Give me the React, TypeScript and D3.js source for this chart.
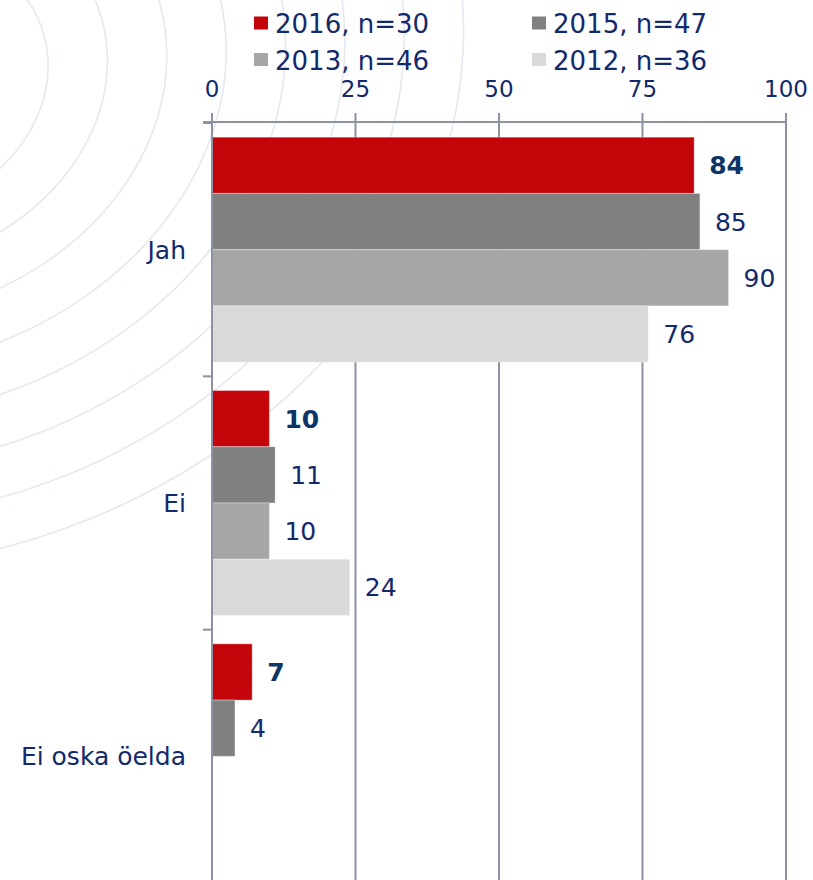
import React from "react";
import * as d3 from "d3";

const categories = ["Jah", "Ei", "Ei oska öelda"];
const seriesNames = ["2016, n=30", "2015, n=47", "2013, n=46", "2012, n=36"];
const seriesColors = ["#c30408", "#808080", "#a6a6a6", "#d9d9d9"];
const s2016 = [84, 10, 7];
const s2015 = [85, 11, 4];
const s2013 = [90, 10, null];
const s2012 = [76, 24, null];
const seriesValues = [s2016, s2015, s2013, s2012];
const xTicks = [0, 25, 50, 75, 100];

const W = 813;
const H = 880;
const FONT = "'DejaVu Sans', Verdana, sans-serif";
const TEXT = "#12296b";
const BOLD = "#0b3566";
const AXIS = "#8c91a3";

export default function App() {
  const x = d3.scaleLinear().domain([0, 100]).range([212, 786]);
  const y = d3.scaleBand<string>().domain(categories).range([123, 883]).paddingInner(0).paddingOuter(0);
  const inner = d3
    .scaleBand<string>()
    .domain(seriesNames)
    .range([0, y.bandwidth()])
    .paddingInner(0)
    .paddingOuter(0.252);

  // faint decorative watermark rings
  const rings = [170, 230, 290, 350, 410, 470, 530, 590];
  const gx = -120, gy = 80;

  return (
    <svg
      width={W}
      height={H}
      style={{ position: "absolute", left: 0, top: 0, background: "#fff" }}
      fontFamily={FONT}
    >
      <g fill="none" stroke="#e4e9f0" strokeWidth={1.6} transform={`rotate(-15 ${gx} ${gy})`}>
        {rings.map((r) => (
          <ellipse key={"r" + r} cx={gx} cy={gy} rx={r} ry={r * 0.82} />
        ))}
      </g>

      {/* gridlines */}
      {xTicks.map((t) => (
        <line key={"g" + t} x1={x(t)} x2={x(t)} y1={113} y2={H} stroke={AXIS} strokeWidth={2} />
      ))}
      {/* top axis line */}
      <line x1={203} x2={x(100)} y1={122} y2={122} stroke={AXIS} strokeWidth={2} />
      {/* category ticks on left */}
      {categories.map((c) => (
        <line key={"ct" + c} x1={203} x2={x(0)} y1={(y(c) as number)} y2={(y(c) as number)} stroke={AXIS} strokeWidth={2} />
      ))}

      {/* tick labels */}
      {xTicks.map((t) => (
        <text key={"tl" + t} x={x(t)} y={97} textAnchor="middle" fontSize={23} fill={TEXT}>
          {t}
        </text>
      ))}

      {/* bars */}
      {categories.map((c, ci) => (
        <g key={"c" + c}>
          {seriesNames.map((s, si) => {
            const v = seriesValues[si][ci];
            if (v === null || v === undefined) return null;
            const by = (y(c) as number) + (inner(s) as number);
            const bh = inner.bandwidth();
            return (
              <g key={s}>
                <rect
                  x={x(0)}
                  y={by}
                  width={x(v) - x(0)}
                  height={bh}
                  fill={seriesColors[si]}
                  stroke="#ffffff"
                  strokeOpacity={0.35}
                  strokeWidth={1}
                />
                <text
                  x={x(v) + 15}
                  y={by + bh / 2 + 9}
                  fontSize={25}
                  fontWeight={si === 0 ? "bold" : "normal"}
                  fill={si === 0 ? BOLD : TEXT}
                >
                  {v}
                </text>
              </g>
            );
          })}
          <text
            x={186}
            y={(y(c) as number) + y.bandwidth() / 2 + 9}
            textAnchor="end"
            fontSize={25}
            fill={TEXT}
          >
            {c}
          </text>
        </g>
      ))}
      {/* left axis over bars */}
      <line x1={x(0)} x2={x(0)} y1={113} y2={H} stroke={AXIS} strokeWidth={2} />

      {/* legend */}
      {seriesNames.map((s, i) => {
        const col = i % 2;
        const row = Math.floor(i / 2);
        const lx = col === 0 ? 254 : 532;
        const ly = row === 0 ? 16.5 : 53;
        return (
          <g key={"l" + s}>
            <rect x={lx} y={ly} width={14} height={13} fill={seriesColors[i]} />
            <text x={lx + 21} y={ly + 16.5} fontSize={26} fill={TEXT}>
              {s}
            </text>
          </g>
        );
      })}
    </svg>
  );
}
